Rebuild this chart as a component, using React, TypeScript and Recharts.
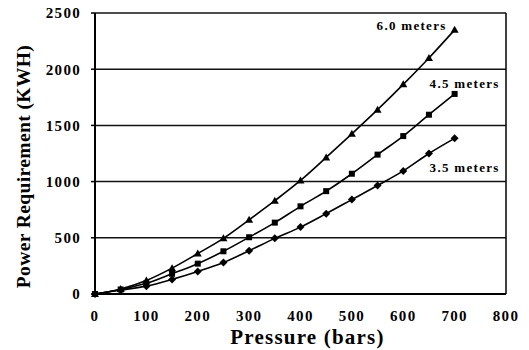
import { CartesianGrid, Line, LineChart, ReferenceLine, XAxis, YAxis } from 'recharts'

const pressure = [0, 50, 100, 150, 200, 250, 300, 350, 400, 450, 500, 550, 600, 650, 700]
const m60 = [0, 45, 120, 230, 360, 495, 660, 830, 1010, 1215, 1425, 1640, 1865, 2100, 2350]
const m45 = [0, 40, 95, 180, 270, 380, 505, 635, 780, 915, 1070, 1240, 1405, 1595, 1780]
const m35 = [0, 35, 70, 130, 200, 280, 385, 495, 595, 715, 840, 965, 1095, 1250, 1385]
const xTicks = [0, 100, 200, 300, 400, 500, 600, 700, 800]
const yTicks = [0, 500, 1000, 1500, 2000, 2500]

const data = pressure.map((p, i) => ({ p, m60: m60[i], m45: m45[i], m35: m35[i] }))

const serif = '"Liberation Serif", "Times New Roman", serif'
const last = pressure.length - 1

const triangle = (props: any) => {
  const { cx, cy, index } = props
  return <path key={`t${index}`} d={`M${cx},${cy - 4} L${cx + 4},${cy + 3} L${cx - 4},${cy + 3} Z`} fill="#000" />
}
const square = (props: any) => {
  const { cx, cy, index } = props
  return <rect key={`s${index}`} x={cx - 3} y={cy - 3} width={6} height={6} fill="#000" />
}
const diamond = (props: any) => {
  const { cx, cy, index } = props
  return <path key={`d${index}`} d={`M${cx},${cy - 4} L${cx + 4},${cy} L${cx},${cy + 4} L${cx - 4},${cy} Z`} fill="#000" />
}

const seriesLabel = (text: string, dx: number, dy: number, anchor: string) => (props: any) => {
  const { x, y, index } = props
  if (index !== last) return null
  return (
    <text
      key={text}
      x={x + dx}
      y={y + dy}
      textAnchor={anchor}
      dominantBaseline="central"
      fontFamily={serif}
      fontWeight="bold"
      fontSize={13}
      letterSpacing={1.3}
      fill="#000"
    >
      {text}
    </text>
  )
}

const yLabel = ({ viewBox }: any) => {
  const cx = viewBox.x + 23
  const cy = viewBox.y + viewBox.height / 2 + 13
  return (
    <text
      x={cx}
      y={cy}
      transform={`rotate(-90 ${cx} ${cy})`}
      textAnchor="middle"
      dominantBaseline="central"
      fontFamily={serif}
      fontWeight="bold"
      fontSize={19.5}
      letterSpacing={0.4}
      fill="#000"
    >
      Power Requirement (KWH)
    </text>
  )
}

const xLabel = ({ viewBox }: any) => (
  <text
    x={viewBox.x + viewBox.width / 2 + 7}
    y={viewBox.y + 50}
    textAnchor="middle"
    fontFamily={serif}
    fontWeight="bold"
    fontSize={21}
    letterSpacing={1.2}
    fill="#000"
  >
    Pressure (bars)
  </text>
)

const tickStyle = { fontFamily: serif, fontWeight: 'bold', fontSize: 15, letterSpacing: 1.3, fill: '#000' }

export default function App() {
  return (
    <div style={{ position: 'absolute', left: 0, top: 0, background: '#fff' }}>
      <LineChart width={529} height={350} data={data} margin={{ top: 13, right: 23, bottom: 0, left: 0 }}>
        <CartesianGrid vertical={false} stroke="#111" strokeWidth={1.5} />
        <XAxis
          dataKey="p"
          type="number"
          domain={[0, 800]}
          ticks={xTicks}
          height={56}
          tickLine={false}
          tickMargin={10}
          axisLine={{ stroke: '#000', strokeWidth: 2 }}
          tick={tickStyle}
          label={{ content: xLabel }}
        />
        <YAxis
          type="number"
          domain={[0, 2500]}
          ticks={yTicks}
          width={95}
          tickSize={4}
          tickMargin={10}
          tickLine={{ stroke: '#000', strokeWidth: 1.5 }}
          axisLine={{ stroke: '#000', strokeWidth: 2 }}
          tick={tickStyle}
          label={{ content: yLabel }}
        />
        <ReferenceLine x={800} stroke="#000" strokeWidth={1.5} />
        <Line
          type="monotone"
          dataKey="m60"
          stroke="#000"
          strokeWidth={1.6}
          dot={triangle}
          isAnimationActive={false}
          label={seriesLabel('6.0 meters', -8, -4, 'end')}
        />
        <Line
          type="monotone"
          dataKey="m45"
          stroke="#000"
          strokeWidth={1.6}
          dot={square}
          isAnimationActive={false}
          label={seriesLabel('4.5 meters', 10, -10, 'middle')}
        />
        <Line
          type="monotone"
          dataKey="m35"
          stroke="#000"
          strokeWidth={1.6}
          dot={diamond}
          isAnimationActive={false}
          label={seriesLabel('3.5 meters', 10, 29, 'middle')}
        />
      </LineChart>
    </div>
  )
}
